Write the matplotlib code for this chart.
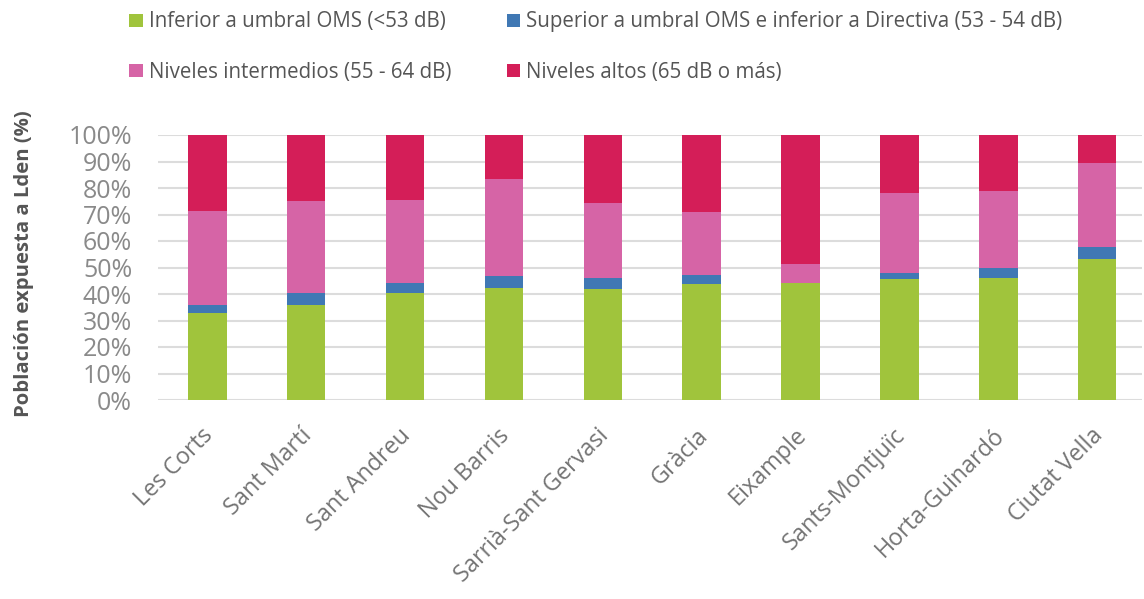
import matplotlib
matplotlib.use("Agg")
import matplotlib.pyplot as plt
from matplotlib.patches import Patch
from matplotlib.ticker import PercentFormatter, MultipleLocator
from matplotlib.transforms import ScaledTranslation
import numpy as np

districts = ["Les Corts", "Sant Martí", "Sant Andreu", "Nou Barris",
             "Sarrià-Sant Gervasi", "Gràcia", "Eixample", "Sants-Montjuïc",
             "Horta-Guinardó", "Ciutat Vella"]

below_who = [33.0, 35.8, 40.3, 42.1, 41.9, 43.8, 44.3, 45.5, 45.9, 53.2]
who_to_directive = [3.0, 4.7, 3.7, 4.7, 4.0, 3.4, 0.0, 2.3, 3.8, 4.4]
intermediate = [35.3, 34.6, 31.5, 36.5, 28.6, 23.6, 7.0, 30.4, 29.2, 32.0]
high = [28.7, 24.9, 24.5, 16.7, 25.5, 29.2, 48.7, 21.8, 21.1, 10.4]

series_labels = ["Inferior a umbral OMS (<53 dB)",
                 "Superior a umbral OMS e inferior a Directiva (53 - 54 dB)",
                 "Niveles intermedios (55 - 64 dB)",
                 "Niveles altos (65 dB o más)"]
series_colors = ["#A0C43C", "#4078B4", "#D664A6", "#D41E58"]

plt.rcParams["font.family"] = ["Open Sans", "DejaVu Sans"]

fig = plt.figure(figsize=(11.44, 5.99), dpi=100)
ax = fig.add_axes([0.138, 1 - 400 / 599, 0.860, 265 / 599])

x = np.arange(len(districts))
bottom = np.zeros(len(districts))
for vals, color in zip([below_who, who_to_directive, intermediate, high], series_colors):
    ax.bar(x, vals, width=0.39, bottom=bottom, color=color, zorder=3)
    bottom += np.array(vals)

ax.set_xlim(-0.5, 9.45)
ax.set_ylim(0, 100)
ax.yaxis.set_major_locator(MultipleLocator(10))
ax.yaxis.set_major_formatter(PercentFormatter(decimals=0))
ax.grid(axis="y", color="#dcdcdc", linewidth=1.5, zorder=0)
for spine in ax.spines.values():
    spine.set_visible(False)
ax.tick_params(axis="both", length=0)
ax.tick_params(axis="y", labelsize=18, labelcolor="#8a8a8a", pad=18.5)

ax.set_xticks(x)
ax.set_xticklabels(districts, rotation=45, ha="right", va="top",
                   rotation_mode="anchor", fontsize=16.8, color="#747474")
ax.tick_params(axis="x", pad=17)
shift = ScaledTranslation(-6 / 100, 0, fig.dpi_scale_trans)
for lbl in ax.get_xticklabels():
    lbl.set_transform(lbl.get_transform() + shift)

fig.text(0.021, 0.56, "Población expuesta a Lden (%)", rotation=90,
         ha="center", va="center", fontsize=14.6, fontweight="bold", color="#555555")

handles = [Patch(facecolor=c, edgecolor="none") for c in series_colors]
order = [0, 2, 1, 3]
fig.legend([handles[i] for i in order], [series_labels[i] for i in order],
           ncol=2, loc="upper left", bbox_to_anchor=(0.097, 1.012),
           frameon=False, fontsize=14.8, labelcolor="#555555",
           handlelength=0.65, handleheight=0.6, handletextpad=0.3,
           columnspacing=2.7, labelspacing=1.45)

fig.savefig("out.png", dpi=100, facecolor="white")
